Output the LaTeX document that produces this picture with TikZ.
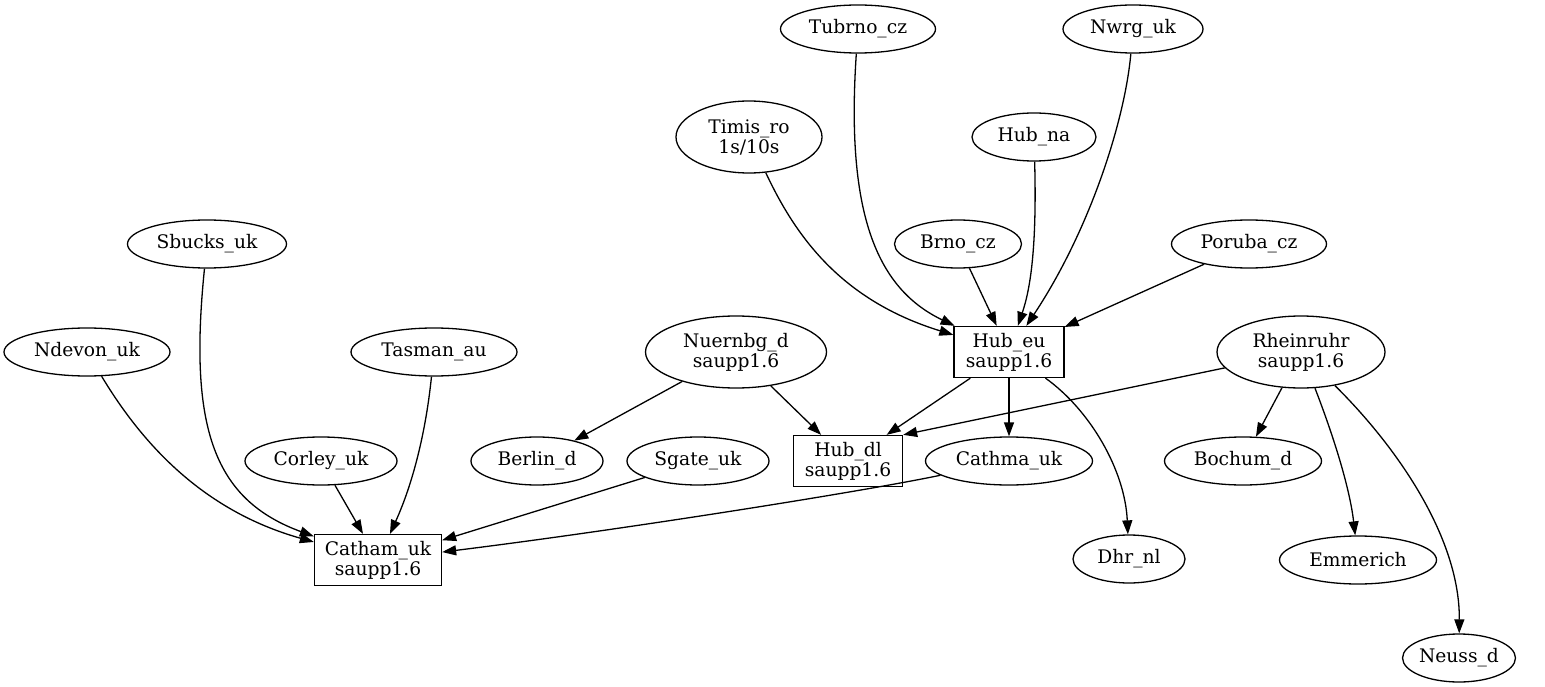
\documentclass[tikz,border=0pt]{standalone}
\usepackage{fontspec}
\setmainfont{DejaVu Serif}
\usepackage{tikz}
\usetikzlibrary{shapes.geometric,arrows.meta}
\tikzset{%
  every site/.style={
    ellipse,
    draw,
    line width=1.3pt,
    inner sep=0pt,
    minimum height=48pt,
    align=center,
    font=\fontsize{18.67}{20}\selectfont
  },
  site two/.style={
    every site,
    minimum height=72pt
  },
  hub box/.style={
    rectangle,
    draw,
    line width=1.3pt,
    inner sep=0pt,
    minimum height=51pt,
    align=center,
    font=\fontsize{18.67}{20}\selectfont
  },
}

\begin{document}
\begin{tikzpicture}[x=1pt,y=-1pt]
    \tikzstyle{link}=[->,>={Triangle[length=14pt,width=10pt]},line width=1.3pt]
    \useasboundingbox (0,0) rectangle (1545,687);
    \node[every site,minimum width=155pt](tubrno) at (858,29){Tubrno\_cz};
    \node[every site,minimum width=140pt](nwrg) at (1133,29){Nwrg\_uk};
    \node[site two,minimum width=146pt](timis) at (749,137){Timis\_ro\\1s/10s};
    \node[every site,minimum width=124pt](hubna) at (1034,137){Hub\_na};
    \node[every site,minimum width=159pt](sbucks) at (207,244){Sbucks\_uk};
    \node[every site,minimum width=127pt](brno) at (958,244){Brno\_cz};
    \node[every site,minimum width=155pt](poruba) at (1249,244){Poruba\_cz};
    \node[every site,minimum width=166pt](ndevon) at (87,352){Ndevon\_uk};
    \node[every site,minimum width=166pt](tasman) at (434,352){Tasman\_au};
    \node[site two,minimum width=181pt](nuernbg) at (736,352){Nuernbg\_d\\saupp1.6};
    \node[hub box,minimum width=110pt](hubeu) at (1009,352){Hub\_eu\\saupp1.6};
    \node[site two,minimum width=168pt](rheinruhr) at (1301,352){Rheinruhr\\saupp1.6};
    \node[every site,minimum width=152pt](corley) at (321,461){Corley\_uk};
    \node[every site,minimum width=132pt](berlin) at (537,461){Berlin\_d};
    \node[every site,minimum width=142pt](sgate) at (698,461){Sgate\_uk};
    \node[hub box,minimum width=109pt](hubdl) at (848,461){Hub\_dl\\saupp1.6};
    \node[every site,minimum width=167pt](cathma) at (1009,461){Cathma\_uk};
    \node[every site,minimum width=157pt](bochum) at (1243,461){Bochum\_d};
    \node[hub box,minimum width=127pt](catham) at (378,560){Catham\_uk\\saupp1.6};
    \node[every site,minimum width=112pt](dhr) at (1129,559){Dhr\_nl};
    \node[every site,minimum width=157pt](emmerich) at (1358,560){Emmerich};
    \node[every site,minimum width=105pt](neuss) at (1459,658){Neuss\_d};

    \draw[link] (tubrno) .. controls (845,220) and (880,290) .. (hubeu);
    \draw[link] (timis) .. controls (795,235) and (840,300) .. (hubeu);
    \draw[link] (hubna) .. controls (1037,250) and (1030,290) .. (hubeu);
    \draw[link] (nwrg) .. controls (1125,120) and (1090,230) .. (hubeu);
    \draw[link] (brno) -- (hubeu);
    \draw[link] (poruba) -- (hubeu);
    \draw[link] (hubeu) -- (hubdl);
    \draw[link] (hubeu) -- (cathma);
    \draw[link] (hubeu) .. controls (1090,410) and (1125,470) .. (dhr);
    \draw[link] (nuernbg) -- (berlin);
    \draw[link] (nuernbg) -- (hubdl);
    \draw[link] (rheinruhr) -- (hubdl.north east);
    \draw[link] (rheinruhr) -- (bochum);
    \draw[link] (rheinruhr) .. controls (1335,440) and (1350,490) .. (emmerich);
    \draw[link] (rheinruhr) .. controls (1400,450) and (1460,540) .. (neuss);
    \draw[link] (sbucks) .. controls (188,430) and (215,500) .. (catham);
    \draw[link] (ndevon) .. controls (140,440) and (200,510) .. (catham);
    \draw[link] (tasman) .. controls (425,440) and (410,490) .. (catham);
    \draw[link] (corley) -- (catham);
    \draw[link] (sgate) -- (catham);
    \draw[link] (cathma) .. controls (860,492) and (620,530) .. (catham);
\end{tikzpicture}
\end{document}
